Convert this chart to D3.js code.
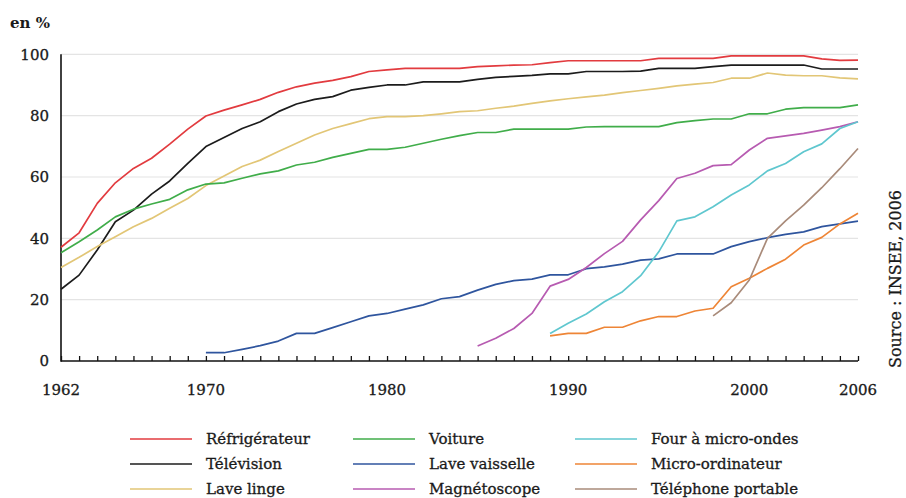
<!DOCTYPE html>
<html>
<head>
<meta charset="utf-8">
<script src="https://cdn.jsdelivr.net/npm/d3@7"></script>
<style>
  html, body { margin: 0; padding: 0; background: #ffffff; }
  svg { display: block; }
  text { font-family: "DejaVu Serif", "Liberation Serif", serif; fill: #1a1a1a; }
  text.reg { stroke: #1a1a1a; stroke-width: 0.3px; }
</style>
</head>
<body>
<svg id="chart" width="906" height="498"></svg>
<script>
// ---- data ----
const years = d3.range(1962, 2007);
const xTickLabels = [1962, 1970, 1980, 1990, 2000, 2006];
const yTickValues = [0, 20, 40, 60, 80, 100];

const seriesNames = ["Réfrigérateur", "Télévision", "Lave linge", "Voiture", "Lave vaisselle",
  "Magnétoscope", "Four à micro-ondes", "Micro-ordinateur", "Téléphone portable"];

// Values start at the given start year, one per year, through 2006
const refrigerateur = [37.1,41.8,51.4,58.1,62.8,66.1,70.7,75.6,79.9,81.8,
  83.5,85.3,87.6,89.4,90.6,91.5,92.7,94.4,94.9,95.4,
  95.4,95.4,95.4,96,96.2,96.5,96.6,97.3,97.9,97.9,
  97.9,97.9,97.9,98.7,98.7,98.7,98.7,99.5,99.5,99.5,
  99.5,99.5,98.5,98,98.1];
const television = [23.4,28,36.2,45.4,49.2,54.4,58.7,64.4,69.9,72.9,
  75.8,78,81.3,83.8,85.3,86.2,88.3,89.2,90,90,
  91,91,91,91.8,92.5,92.8,93.1,93.6,93.6,94.4,
  94.4,94.4,94.5,95.4,95.4,95.4,96,96.5,96.5,96.5,
  96.5,96.5,95.2,95.2,95.2];
const laveLinge = [30.5,33.8,37.3,40.5,43.8,46.5,49.8,53,57.2,60.3,
  63.4,65.5,68.3,71,73.7,75.8,77.4,79,79.7,79.7,
  80,80.6,81.3,81.6,82.4,83.1,84,84.8,85.5,86.1,
  86.7,87.5,88.2,88.9,89.7,90.3,90.8,92.2,92.2,93.9,
  93.2,93,93,92.3,92];
const voiture = [35.3,38.9,42.7,47,49.5,51.2,52.7,55.8,57.7,58.1,
  59.6,61,62,63.9,64.8,66.4,67.7,69,69,69.7,
  71,72.3,73.5,74.5,74.5,75.6,75.6,75.6,75.6,76.3,
  76.4,76.4,76.4,76.4,77.7,78.4,78.9,78.9,80.6,80.6,
  82.1,82.6,82.6,82.6,83.5];
const laveVaisselle = [2.7,2.7,3.8,5,6.5,9,9,10.9,12.8,14.7,
  15.5,16.9,18.3,20.3,21,23.1,25,26.2,26.7,28.1,
  28.1,30.1,30.7,31.6,32.9,33.3,34.9,34.9,34.9,37.3,
  38.9,40.2,41.3,42.1,43.8,44.7,45.6];
const magnetoscope = [4.9,7.4,10.6,15.5,24.4,26.6,30.5,35,39,46,
  52.3,59.5,61.2,63.7,64,68.8,72.6,73.4,74.2,75.3,76.4,78];
const microOndes = [9,12.3,15.3,19.3,22.6,27.8,35.6,45.7,47,50.3,
  54.1,57.4,62,64.4,68.2,70.8,75.8,78];
const microOrdinateur = [8.2,9,9,11,11,13.1,14.5,14.5,16.3,17.2,
  24.2,27,30.2,33.2,37.8,40.3,44.7,48.2];
const telephonePortable = [14.7,19,26.4,40,45.7,50.8,56.5,62.7,69.3];

const startYears = [1962, 1962, 1962, 1962, 1970, 1985, 1989, 1989, 1998];
const seriesValues = [refrigerateur, television, laveLinge, voiture, laveVaisselle,
  magnetoscope, microOndes, microOrdinateur, telephonePortable];
const colors = ["#e23b3f", "#1c1c1c", "#e2c676", "#40ad4a", "#2f559e",
  "#b75bb1", "#5fc7cf", "#ee8536", "#a98b7a"];

// ---- drawing ----
const svg = d3.select("#chart");
const x = d3.scaleLinear().domain([1962, 2006]).range([61, 858]);
const y = d3.scaleLinear().domain([0, 100]).range([361, 54.3]);

// gridlines
svg.append("g")
  .selectAll("line")
  .data(yTickValues.filter(v => v > 0))
  .join("line")
  .attr("x1", x(1962)).attr("x2", x(2006))
  .attr("y1", d => y(d)).attr("y2", d => y(d))
  .attr("stroke", "#e4e4e4").attr("stroke-width", 1.2);

// y axis labels
svg.append("g")
  .selectAll("text")
  .data(yTickValues)
  .join("text")
  .attr("class", "reg")
  .attr("x", 49).attr("y", d => y(d))
  .attr("dy", "0.36em")
  .attr("text-anchor", "end")
  .style("font-size", "15px")
  .text(d => d);

// x axis with inward ticks at every year
const xAxis = d3.axisBottom(x).tickValues(years).tickSize(-5).tickFormat("");
const gx = svg.append("g").attr("transform", `translate(0,${y(0)})`).call(xAxis);
gx.select(".domain").attr("stroke", "#111").attr("stroke-width", 1.6).attr("d", `M${x(1962)},0H${x(2006)}`);
gx.selectAll(".tick line").attr("stroke", "#111").attr("stroke-width", 1.3);

svg.append("g")
  .selectAll("text")
  .data(xTickLabels)
  .join("text")
  .attr("class", "reg")
  .attr("x", d => x(d)).attr("y", 395)
  .attr("text-anchor", "middle")
  .style("font-size", "15px")
  .text(d => d);

// y axis line
svg.append("line")
  .attr("x1", x(1962)).attr("x2", x(1962))
  .attr("y1", y(100)).attr("y2", y(0) + 0.8)
  .attr("stroke", "#111").attr("stroke-width", 1.6);

// series lines
const line = d3.line().x(d => x(d[0])).y(d => y(d[1]));
seriesValues.forEach((vals, i) => {
  const pts = vals.map((v, j) => [startYears[i] + j, v]);
  svg.append("path")
    .datum(pts)
    .attr("d", line)
    .attr("fill", "none")
    .attr("stroke", colors[i])
    .attr("stroke-width", 1.7)
    .attr("stroke-linejoin", "round");
});

// title "en %"
svg.append("text")
  .attr("x", 10).attr("y", 28)
  .style("font-size", "15px").style("font-weight", "bold")
  .text("en %");

// source (rotated)
svg.append("text")
  .attr("class", "reg")
  .attr("transform", "translate(901,279) rotate(-90)")
  .attr("text-anchor", "middle")
  .style("font-size", "16px")
  .text("Source : INSEE, 2006");

// legend (3 columns x 3 rows, column-major)
const legendCols = [130, 353, 575];
const legendRows = [439, 464, 489];
const lg = svg.append("g")
  .selectAll("g")
  .data(seriesNames)
  .join("g")
  .attr("transform", (d, i) => `translate(${legendCols[Math.floor(i / 3)]},${legendRows[i % 3]})`);
lg.append("line")
  .attr("x1", 0).attr("x2", 62)
  .attr("stroke", (d, i) => colors[i])
  .attr("stroke-width", 1.7);
lg.append("text")
  .attr("class", "reg")
  .attr("x", 76).attr("dy", "0.36em")
  .style("font-size", "15px")
  .text(d => d);
</script>
</body>
</html>
